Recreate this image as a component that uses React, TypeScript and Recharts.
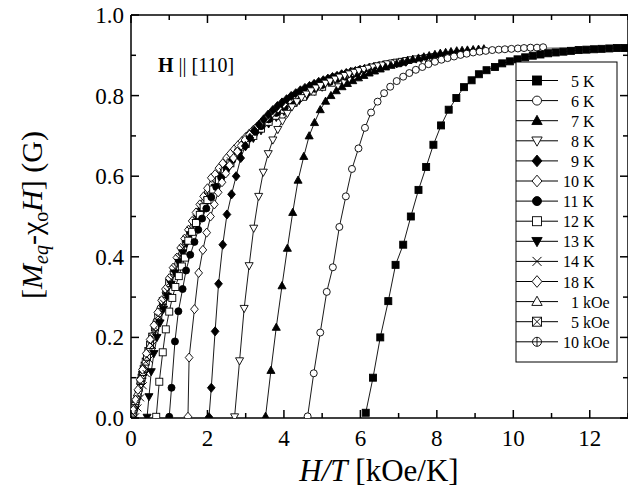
import React from 'react';
import { LineChart, Line, XAxis, YAxis, ReferenceLine } from 'recharts';

const FONT = "'Liberation Serif', 'Times New Roman', serif";
const X_TICKS = [0, 1, 2, 3, 4, 5, 6, 7, 8, 9, 10, 11, 12, 13];
const Y_TICKS = [0, 0.1, 0.2, 0.3, 0.4, 0.5, 0.6, 0.7, 0.8, 0.9, 1.0];

type P = [number, number];

const k5: P[] = [[6.14,0.013],[6.33,0.10],[6.52,0.20],[6.73,0.29],[6.92,0.38],[7.12,0.43],[7.32,0.50],[7.52,0.566],[7.72,0.623],[7.91,0.678],[8.11,0.726],[8.31,0.765],[8.51,0.794],[8.71,0.821],[8.91,0.838],[9.10,0.853],[9.30,0.863],[9.52,0.871],[9.71,0.880],[9.91,0.885],[10.11,0.890],[10.31,0.895],[10.51,0.899],[10.71,0.902],[10.91,0.905],[11.11,0.907],[11.31,0.909],[11.51,0.911],[11.71,0.913],[11.91,0.914],[12.11,0.915],[12.31,0.916],[12.51,0.917],[12.71,0.918],[12.91,0.918]];
const k6: P[] = [[4.62,0.004],[4.78,0.111],[4.95,0.212],[5.12,0.313],[5.28,0.374],[5.45,0.474],[5.62,0.55],[5.78,0.618],[5.95,0.669],[6.12,0.72],[6.28,0.758],[6.45,0.785],[6.62,0.806],[6.78,0.822],[6.95,0.836],[7.12,0.847],[7.28,0.856],[7.45,0.864],[7.62,0.871],[7.78,0.878],[7.95,0.884],[8.12,0.889],[8.28,0.893],[8.45,0.897],[8.62,0.901],[8.78,0.904],[8.95,0.907],[9.12,0.909],[9.28,0.911],[9.45,0.913],[9.62,0.914],[9.78,0.915],[9.95,0.916],[10.12,0.917],[10.28,0.918],[10.45,0.919],[10.62,0.919],[10.78,0.920]];
const k7: P[] = [[3.52,0.004],[3.66,0.118],[3.80,0.225],[3.95,0.328],[4.09,0.421],[4.23,0.51],[4.37,0.59],[4.52,0.649],[4.66,0.70],[4.80,0.733],[4.95,0.765],[5.09,0.786],[5.23,0.80],[5.37,0.812],[5.52,0.822],[5.66,0.83],[5.80,0.837],[5.95,0.844],[6.09,0.85],[6.23,0.856],[6.37,0.861],[6.52,0.866],[6.66,0.871],[6.80,0.875],[6.95,0.879],[7.09,0.883],[7.23,0.887],[7.37,0.890],[7.52,0.893],[7.66,0.896],[7.80,0.899],[7.95,0.902],[8.09,0.905],[8.23,0.907],[8.37,0.909],[8.52,0.911],[8.66,0.912],[8.80,0.913],[8.95,0.914],[9.09,0.915],[9.23,0.916]];
const k8: P[] = [[2.71,0.003],[2.84,0.142],[2.96,0.272],[3.09,0.378],[3.21,0.471],[3.34,0.55],[3.46,0.61],[3.59,0.656],[3.71,0.69],[3.84,0.716],[3.96,0.737],[4.09,0.756],[4.21,0.772],[4.34,0.785],[4.46,0.795],[4.59,0.804],[4.71,0.812],[4.84,0.819],[4.96,0.825],[5.09,0.831],[5.21,0.836],[5.34,0.841],[5.46,0.846],[5.59,0.85],[5.71,0.854],[5.84,0.858],[5.96,0.862],[6.09,0.865],[6.21,0.868],[6.34,0.871],[6.46,0.874],[6.59,0.876],[6.71,0.879],[6.84,0.881],[6.96,0.883],[7.09,0.885],[7.21,0.887],[7.34,0.889],[7.46,0.891],[7.59,0.892],[7.71,0.894],[7.84,0.895],[7.96,0.897],[8.09,0.898]];
const k9: P[] = [[2.04,0.002],[2.10,0.075],[2.20,0.215],[2.29,0.333],[2.40,0.43],[2.51,0.505],[2.63,0.555],[2.75,0.60],[2.87,0.645],[2.99,0.675],[3.11,0.695],[3.23,0.713],[3.35,0.728],[3.47,0.741],[3.59,0.753],[3.71,0.764],[3.83,0.774],[3.95,0.783],[4.07,0.791],[4.19,0.799],[4.31,0.806],[4.43,0.813],[4.55,0.819],[4.67,0.824],[4.79,0.829],[4.91,0.834],[5.03,0.838],[5.15,0.842],[5.27,0.846],[5.39,0.849],[5.51,0.853],[5.63,0.856],[5.75,0.859],[5.87,0.861],[5.99,0.864],[6.11,0.866],[6.23,0.869],[6.35,0.871],[6.47,0.873],[6.59,0.875],[6.71,0.877],[6.83,0.879],[6.95,0.88],[7.07,0.882],[7.19,0.884]];
const k10: P[] = [[1.49,0.003],[1.52,0.15],[1.66,0.27],[1.77,0.36],[1.88,0.417],[1.98,0.46],[2.08,0.50],[2.18,0.53],[2.28,0.56],[2.38,0.585],[2.48,0.607],[2.58,0.627],[2.68,0.645],[2.78,0.661],[2.88,0.676],[2.98,0.69],[3.1,0.703],[3.25,0.718],[3.4,0.732],[3.55,0.745],[3.7,0.757],[3.85,0.768],[4.0,0.779],[4.15,0.789],[4.3,0.798],[4.45,0.807],[4.6,0.815],[4.75,0.822],[4.9,0.829],[5.05,0.835],[5.2,0.84],[5.35,0.845],[5.5,0.85],[5.65,0.854],[5.8,0.858],[5.95,0.862],[6.1,0.865],[6.25,0.868],[6.4,0.871],[6.5,0.873]];
const k11: P[] = [[1.0,0.003],[1.06,0.075],[1.15,0.19],[1.24,0.265],[1.35,0.32],[1.44,0.366],[1.55,0.405],[1.66,0.437],[1.76,0.467],[1.86,0.495],[1.97,0.52],[2.1,0.548],[2.23,0.573],[2.36,0.596],[2.5,0.618],[2.65,0.64],[2.8,0.66],[2.95,0.678],[3.1,0.695],[3.25,0.71],[3.4,0.724],[3.6,0.741],[3.8,0.757],[4.0,0.771],[4.2,0.784],[4.4,0.796],[4.6,0.807],[4.8,0.817],[5.0,0.826],[5.2,0.834],[5.4,0.841],[5.6,0.847],[5.8,0.853],[5.91,0.856]];
const k12: P[] = [[0.66,0.003],[0.74,0.09],[0.83,0.163],[0.91,0.22],[1.0,0.264],[1.08,0.298],[1.16,0.325],[1.25,0.352],[1.33,0.376],[1.41,0.398],[1.5,0.44],[1.6,0.462],[1.7,0.484],[1.8,0.504],[1.9,0.523],[2.0,0.541],[2.15,0.567],[2.3,0.59],[2.45,0.612],[2.6,0.632],[2.8,0.657],[3.0,0.68],[3.2,0.70],[3.4,0.718],[3.6,0.735],[3.8,0.75],[4.0,0.765],[4.25,0.782],[4.5,0.797],[4.75,0.81],[5.0,0.822],[5.25,0.832],[5.42,0.838]];
const k13: P[] = [[0.42,0.002],[0.47,0.053],[0.53,0.115],[0.6,0.16],[0.68,0.2],[0.76,0.236],[0.85,0.27],[0.95,0.302],[1.05,0.332],[1.15,0.36],[1.25,0.386],[1.35,0.41],[1.45,0.433],[1.55,0.455],[1.7,0.485],[1.85,0.513],[2.0,0.54],[2.2,0.572],[2.4,0.601],[2.6,0.628],[2.8,0.652],[3.0,0.674],[3.2,0.694],[3.4,0.713],[3.6,0.73],[3.8,0.746],[4.0,0.761],[4.2,0.775],[4.4,0.788],[4.6,0.8],[4.8,0.811],[5.0,0.821]];
const k14: P[] = [[0.12,0.003],[0.18,0.025],[0.25,0.05],[0.32,0.08],[0.4,0.11],[0.48,0.145],[0.56,0.18],[0.65,0.215],[0.75,0.25],[0.85,0.285],[0.95,0.315],[1.05,0.344],[1.15,0.371],[1.25,0.397],[1.35,0.421],[1.45,0.444],[1.55,0.466],[1.7,0.496],[1.85,0.524],[2.0,0.55],[2.2,0.582],[2.4,0.611],[2.6,0.638],[2.8,0.662],[3.0,0.684],[3.2,0.704],[3.4,0.723],[3.6,0.74],[3.8,0.756],[4.0,0.771],[4.2,0.784],[4.4,0.797],[4.64,0.81]];
const k18: P[] = [[0.06,0.02],[0.12,0.045],[0.18,0.07],[0.24,0.095],[0.3,0.12],[0.4,0.16],[0.5,0.195],[0.6,0.23],[0.7,0.262],[0.8,0.292],[0.9,0.32],[1.0,0.347],[1.1,0.373],[1.2,0.398],[1.3,0.422],[1.4,0.445],[1.5,0.467],[1.6,0.489],[1.7,0.51],[1.8,0.53],[1.9,0.55],[2.0,0.57],[2.1,0.596],[2.2,0.605],[2.3,0.62],[2.4,0.632],[2.5,0.645],[2.6,0.656],[2.7,0.667],[2.8,0.677],[2.9,0.687],[3.0,0.697],[3.1,0.706],[3.2,0.715],[3.3,0.723],[3.4,0.731],[3.5,0.739],[3.61,0.746]];
const h1: P[] = [[0.05,0.012],[0.056,0.018],[0.063,0.022],[0.071,0.026],[0.077,0.028],[0.083,0.031],[0.091,0.034],[0.1,0.037],[0.111,0.041],[0.125,0.046],[0.143,0.053],[0.167,0.062],[0.2,0.074],[0.25,0.092],[0.333,0.122],[0.5,0.18]];
const h5: P[] = [[0.25,0.092],[0.278,0.1],[0.294,0.107],[0.313,0.114],[0.333,0.121],[0.357,0.13],[0.385,0.14],[0.417,0.152],[0.455,0.166],[0.5,0.182],[0.556,0.202],[0.625,0.225],[0.714,0.254],[0.833,0.29],[1.0,0.335]];
const h10: P[] = [[0.5,0.182],[0.556,0.203],[0.625,0.227],[0.667,0.24],[0.714,0.256],[0.769,0.272],[0.833,0.29],[0.909,0.311],[1.0,0.336],[1.111,0.363],[1.25,0.396],[1.429,0.437],[1.667,0.487],[2.0,0.558]];
const theory: P[] = [[0,0],[0.1,0.04],[0.2,0.078],[0.3,0.115],[0.4,0.15],[0.5,0.184],[0.6,0.217],[0.7,0.248],[0.8,0.278],[0.9,0.306],[1.0,0.335],[1.2,0.386],[1.4,0.433],[1.6,0.477],[1.8,0.518],[2.0,0.556],[2.2,0.59],[2.4,0.62],[2.6,0.646],[2.8,0.669],[3.0,0.69],[3.5,0.738],[4.0,0.776],[4.5,0.806],[5.0,0.83],[5.5,0.849],[6.0,0.864],[6.5,0.876],[7.0,0.885],[7.5,0.893],[8.0,0.899],[8.5,0.904],[9.0,0.908],[10,0.913],[11,0.917],[12,0.919],[13,0.92]];

const LEGEND_LABELS = ['5 K', '6 K', '7 K', '8 K', '9 K', '10 K', '11 K', '12 K', '13 K', '14 K', '18 K', '1 kOe', '5 kOe', '10 kOe'];

type Kind = 'sqF' | 'ciO' | 'trUF' | 'trDO' | 'diF' | 'diO' | 'ciF' | 'sqO' | 'trDF' | 'cross' | 'trUO' | 'sqX' | 'ciP';

const SERIES: { label: string; data: P[]; kind: Kind }[] = [
  { label: LEGEND_LABELS[0], data: k5, kind: 'sqF' },
  { label: LEGEND_LABELS[1], data: k6, kind: 'ciO' },
  { label: LEGEND_LABELS[2], data: k7, kind: 'trUF' },
  { label: LEGEND_LABELS[3], data: k8, kind: 'trDO' },
  { label: LEGEND_LABELS[4], data: k9, kind: 'diF' },
  { label: LEGEND_LABELS[5], data: k10, kind: 'diO' },
  { label: LEGEND_LABELS[6], data: k11, kind: 'ciF' },
  { label: LEGEND_LABELS[7], data: k12, kind: 'sqO' },
  { label: LEGEND_LABELS[8], data: k13, kind: 'trDF' },
  { label: LEGEND_LABELS[9], data: k14, kind: 'cross' },
  { label: LEGEND_LABELS[10], data: k18, kind: 'diO' },
  { label: LEGEND_LABELS[11], data: h1, kind: 'trUO' },
  { label: LEGEND_LABELS[12], data: h5, kind: 'sqX' },
  { label: LEGEND_LABELS[13], data: h10, kind: 'ciP' },
];

const W = 636;
const H = 493;
const M = { top: 15, right: 8, left: 71, bottom: 15 };
const YAXIS_W = 60;
const XAXIS_H = 60;
const PLOT_W = W - M.left - M.right - YAXIS_W;
const PLOT_H = H - M.top - M.bottom - XAXIS_H;

function Marker({ kind, cx, cy, s }: { kind: Kind; cx: number; cy: number; s: number }) {
  const r = s / 2;
  const sw = 0.9;
  const filled = kind.endsWith('F');
  const fill = filled ? '#000' : '#fff';
  switch (kind) {
    case 'sqF':
    case 'sqO':
      return <rect x={cx - r} y={cy - r} width={s} height={s} fill={fill} stroke="#000" strokeWidth={sw} />;
    case 'ciF':
    case 'ciO':
      return <circle cx={cx} cy={cy} r={r} fill={fill} stroke="#000" strokeWidth={sw} />;
    case 'trUF':
    case 'trUO':
      return <polygon points={`${cx},${cy - r * 1.2} ${cx - r * 1.15},${cy + r * 0.85} ${cx + r * 1.15},${cy + r * 0.85}`} fill={fill} stroke="#000" strokeWidth={sw} />;
    case 'trDF':
    case 'trDO':
      return <polygon points={`${cx},${cy + r * 1.2} ${cx - r * 1.15},${cy - r * 0.85} ${cx + r * 1.15},${cy - r * 0.85}`} fill={fill} stroke="#000" strokeWidth={sw} />;
    case 'diF':
    case 'diO':
      return <polygon points={`${cx},${cy - r * 1.3} ${cx + r * 1.1},${cy} ${cx},${cy + r * 1.3} ${cx - r * 1.1},${cy}`} fill={fill} stroke="#000" strokeWidth={sw} />;
    case 'cross':
      return (
        <g stroke="#000" strokeWidth={1}>
          <line x1={cx - r} y1={cy - r} x2={cx + r} y2={cy + r} />
          <line x1={cx - r} y1={cy + r} x2={cx + r} y2={cy - r} />
        </g>
      );
    case 'sqX':
      return (
        <g stroke="#000" strokeWidth={sw}>
          <rect x={cx - r} y={cy - r} width={s} height={s} fill="#fff" />
          <line x1={cx - r} y1={cy - r} x2={cx + r} y2={cy + r} />
          <line x1={cx - r} y1={cy + r} x2={cx + r} y2={cy - r} />
        </g>
      );
    case 'ciP':
      return (
        <g stroke="#000" strokeWidth={sw}>
          <circle cx={cx} cy={cy} r={r} fill="#fff" />
          <line x1={cx - r} y1={cy} x2={cx + r} y2={cy} />
          <line x1={cx} y1={cy - r} x2={cx} y2={cy + r} />
        </g>
      );
    default:
      return null;
  }
}

const XTick = (props: any) => {
  const { x, y, payload } = props;
  const v = payload.value as number;
  const major = v % 2 === 0;
  const len = major ? 8 : 5;
  return (
    <g>
      <line x1={x} y1={y} x2={x} y2={y - len} stroke="#000" strokeWidth={1.5} />
      <line x1={x} y1={y - PLOT_H} x2={x} y2={y - PLOT_H + len} stroke="#000" strokeWidth={1.5} />
      {major && (
        <text x={x} y={y + 28} textAnchor="middle" fontSize={23} fontFamily={FONT} fill="#000">
          {v}
        </text>
      )}
    </g>
  );
};

const YTick = (props: any) => {
  const { x, y, payload } = props;
  const v = payload.value as number;
  const major = Math.round(v * 10) % 2 === 0;
  const len = major ? 8 : 5;
  return (
    <g>
      <line x1={x} y1={y} x2={x + len} y2={y} stroke="#000" strokeWidth={1.5} />
      <line x1={x + PLOT_W} y1={y} x2={x + PLOT_W - len} y2={y} stroke="#000" strokeWidth={1.5} />
      {major && (
        <text x={x - 7} y={y + 8} textAnchor="end" fontSize={23} fontFamily={FONT} fill="#000">
          {v.toFixed(1)}
        </text>
      )}
    </g>
  );
};

const toPts = (d: P[]) => d.map(([x, y]) => ({ x, y }));

export default function App() {
  const legendTop = 62;
  const legendX = 516;
  return (
    <div style={{ position: 'relative', width: W, height: H, margin: -8 }}>
      <LineChart width={W} height={H} margin={M}>
        <XAxis
          type="number"
          dataKey="x"
          domain={[0, 13]}
          ticks={X_TICKS}
          interval={0}
          allowDataOverflow
          tickLine={false}
          tickSize={0}
          tickMargin={0}
          height={XAXIS_H}
          axisLine={{ stroke: '#000', strokeWidth: 1.5 }}
          tick={<XTick />}
        />
        <YAxis
          type="number"
          dataKey="y"
          domain={[0, 1]}
          ticks={Y_TICKS}
          interval={0}
          allowDataOverflow
          tickLine={false}
          tickSize={0}
          tickMargin={0}
          width={YAXIS_W}
          axisLine={{ stroke: '#000', strokeWidth: 1.5 }}
          tick={<YTick />}
        />
        <ReferenceLine y={1} stroke="#000" strokeWidth={1.5} />
        <ReferenceLine x={13} stroke="#000" strokeWidth={1.5} />
        {SERIES.slice().reverse().map((s) => (
          <Line
            key={s.label}
            data={toPts(s.data)}
            dataKey="y"
            type="linear"
            stroke="#000"
            strokeWidth={0.9}
            isAnimationActive={false}
            dot={(p: any) => (
              <Marker key={`${s.label}-${p.index}`} kind={s.kind} cx={p.cx} cy={p.cy} s={7} />
            )}
          />
        ))}
        <Line
          data={toPts(theory)}
          dataKey="y"
          type="monotone"
          stroke="#9a9a9a"
          strokeWidth={2.2}
          dot={false}
          isAnimationActive={false}
        />
      </LineChart>
      <svg width={W} height={H} style={{ position: 'absolute', left: 0, top: 0, pointerEvents: 'none' }}>
        <text x={158} y={72} fontSize={20} fontFamily={FONT} fill="#000">
          <tspan fontWeight="bold">H</tspan>
          <tspan> || [110]</tspan>
        </text>
        <text x={379} y={481} textAnchor="middle" fontSize={31} fontFamily={FONT} fill="#000">
          <tspan fontStyle="italic">H/T</tspan>
          <tspan> [kOe/K]</tspan>
        </text>
        <text transform="translate(42,215) rotate(-90)" textAnchor="middle" fontSize={30} fontFamily={FONT} fill="#000">
          <tspan>[</tspan>
          <tspan fontStyle="italic">M</tspan>
          <tspan fontStyle="italic" fontSize={20} dy={6}>eq</tspan>
          <tspan dy={-6}>-χ</tspan>
          <tspan fontSize={20} dy={6}>o</tspan>
          <tspan fontStyle="italic" dy={-6}>H</tspan>
          <tspan>] (G)</tspan>
        </text>
        <rect x={legendX} y={legendTop} width={101} height={300} fill="#fff" stroke="#000" strokeWidth={1} />
        {SERIES.map((s, i) => {
          const cy = legendTop + 18.5 + i * 20.1;
          const twoDigit = s.label.split(' ')[0].length > 1;
          return (
            <g key={s.label}>
              <line x1={legendX} y1={cy} x2={legendX + 42} y2={cy} stroke="#000" strokeWidth={1} />
              <Marker kind={s.kind} cx={legendX + 21} cy={cy} s={9} />
              <text x={legendX + (twoDigit ? 47 : 55)} y={cy + 6} fontSize={16} fontFamily={FONT} fill="#000">
                {s.label}
              </text>
            </g>
          );
        })}
      </svg>
    </div>
  );
}
